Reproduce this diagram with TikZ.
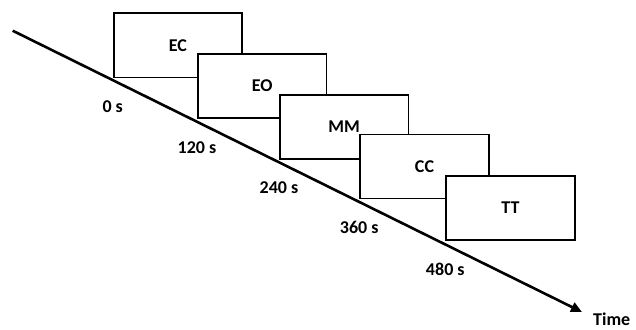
\documentclass[tikz,border=0pt]{standalone}
\usepackage{fontspec}
\setmainfont{Carlito}
\usetikzlibrary{arrows.meta, positioning}
\tikzset{
  stage/.style={rectangle, draw=black, line width=1.8pt, fill=white, minimum width=128.6pt,
    minimum height=64pt, inner sep=0pt, anchor=south west, font=\fontsize{18}{21}\selectfont\bfseries},
  tlabel/.style={inner sep=2pt, font=\fontsize{18}{21}\selectfont\bfseries},
  timearr/.style={-{Triangle[length=11pt, width=10pt]}, line width=2.6pt, black},
}

\begin{document}
\begin{tikzpicture}[x=1pt, y=-1pt]
    \useasboundingbox (0,0) rectangle (636,329);
    \coordinate (tstart) at (12.7,30.7);
    \coordinate (tend) at (582,312);
    \draw[timearr] (tstart) -- (tend);
    \node[stage] (ec) at (112.7,78.3) {EC};
    \node[stage] (eo) at (197,119) {EO};
    \node[stage] (mm) at (279,159.5) {MM};
    \node[stage] (cc) at (359.3,199.3) {CC};
    \node[stage] (tt) at (445.3,241) {TT};
    \node[tlabel, below=20pt of ec.south west] (t0) {0 s};
    \node[tlabel, below=20pt of eo.south west] (t120) {120 s};
    \node[tlabel, below=20pt of mm.south west] (t240) {240 s};
    \node[tlabel, below=20pt of cc.south west] (t360) {360 s};
    \node[tlabel, below=20pt of tt.south west] (t480) {480 s};
    \node[tlabel, inner sep=0pt, right=11pt of tend, yshift=-7pt] (time) {Time};
  \end{tikzpicture}
\end{document}
